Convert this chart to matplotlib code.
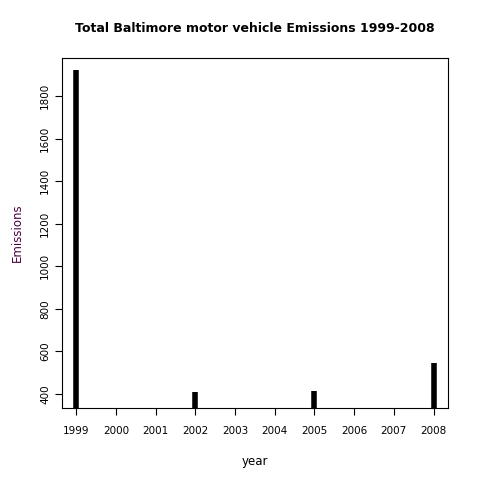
import matplotlib
matplotlib.use("Agg")
import matplotlib.pyplot as plt

years = [1999, 2002, 2005, 2008]
emissions = [1921, 410, 412, 545]
tick_years = list(range(1999, 2009))
tick_vals = [400, 600, 800, 1000, 1200, 1400, 1600, 1800]

fig = plt.figure(figsize=(4.8, 4.8), dpi=100)
ax = fig.add_axes([0.129, 0.15, 0.804, 0.729])
ax.vlines(years, 0, emissions, colors="black", linewidth=4)
ax.set_xlim(1998.64, 2008.36)
ax.set_ylim(334, 1979)
ax.set_xticks(tick_years)
ax.set_yticks(tick_vals)
ax.set_yticklabels([str(v) for v in tick_vals], rotation=90, va="center")
ax.tick_params(labelsize=7.5, length=5)
ax.tick_params(axis="x", pad=8)
ax.set_xlabel("year", fontsize=8.5, labelpad=14)
ax.set_ylabel("Emissions", fontsize=8.5, color="#4b0040", labelpad=12)
ax.set_title("Total Baltimore motor vehicle Emissions 1999-2008",
             fontsize=9, fontweight="bold", pad=19)
fig.savefig("out.png", dpi=100)
